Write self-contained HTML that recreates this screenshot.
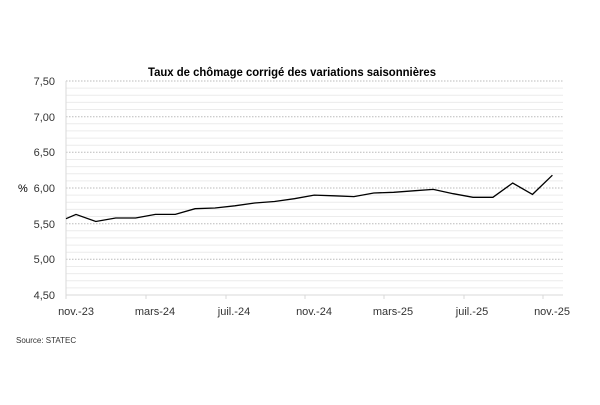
<!DOCTYPE html>
<html><head><meta charset="utf-8"><style>
body{margin:0;background:#fff;}
svg text{font-family:"Liberation Sans",sans-serif;}
</style></head><body>
<svg width="600" height="400" xmlns="http://www.w3.org/2000/svg">
<rect width="600" height="400" fill="#fff"/>
<text x="292" y="76" font-size="12" font-weight="bold" text-anchor="middle" fill="#000" textLength="288" lengthAdjust="spacingAndGlyphs">Taux de chômage corrigé des variations saisonnières</text>
<g id="grid"></g>
<g font-size="11" fill="#333" text-anchor="end">
<text x="55" y="85">7,50</text><text x="55" y="121">7,00</text><text x="55" y="156">6,50</text>
<text x="55" y="192">6,00</text><text x="55" y="228">5,50</text><text x="55" y="263">5,00</text><text x="55" y="299">4,50</text>
</g>
<text x="18" y="192" font-size="11" fill="#000">%</text>
<g font-size="11" fill="#333" text-anchor="middle">
<text x="76" y="315">nov.-23</text><text x="155" y="315">mars-24</text><text x="234" y="315">juil.-24</text>
<text x="314" y="315">nov.-24</text><text x="393" y="315">mars-25</text><text x="472" y="315">juil.-25</text><text x="552" y="315">nov.-25</text>
</g>
<text x="16" y="343" font-size="8" fill="#333">Source: STATEC</text>
<polyline id="ln" fill="none" stroke="#000" stroke-width="1.3" points=""/>
</svg>
<script>
var g=document.getElementById('grid'),s='';
function Y(v){return 81+(7.5-v)*71.33;}
for(var i=0;i<=30;i++){var v=4.5+i*0.1,y=Y(v).toFixed(1);
 if(i%5==0) s+='<line x1="66" x2="563" y1="'+y+'" y2="'+y+'" stroke="#bbb" stroke-width="1" stroke-dasharray="1.5,1.5"/>';
 else s+='<line x1="66" x2="563" y1="'+y+'" y2="'+y+'" stroke="#ececec" stroke-width="1"/>';}
s+='<line x1="66" x2="66" y1="81" y2="295" stroke="#d9d9d9"/>';
s+='<line x1="66" x2="563" y1="295" y2="295" stroke="#d9d9d9"/>';
[66,146,226,305,384,464,543].forEach(function(x){s+='<line x1="'+x+'" x2="'+x+'" y1="295" y2="299" stroke="#d9d9d9"/>';});
g.innerHTML=s;
var vals=[5.63,5.53,5.58,5.58,5.63,5.63,5.71,5.72,5.75,5.79,5.81,5.85,5.90,5.89,5.88,5.93,5.94,5.96,5.98,5.92,5.87,5.87,6.07,5.91,6.18];
var p=['66,'+Y(5.57).toFixed(1)];
for(var i=0;i<vals.length;i++){p.push((76+19.85*i).toFixed(1)+','+Y(vals[i]).toFixed(1));}
document.getElementById('ln').setAttribute('points',p.join(' '));
</script>
</body></html>
